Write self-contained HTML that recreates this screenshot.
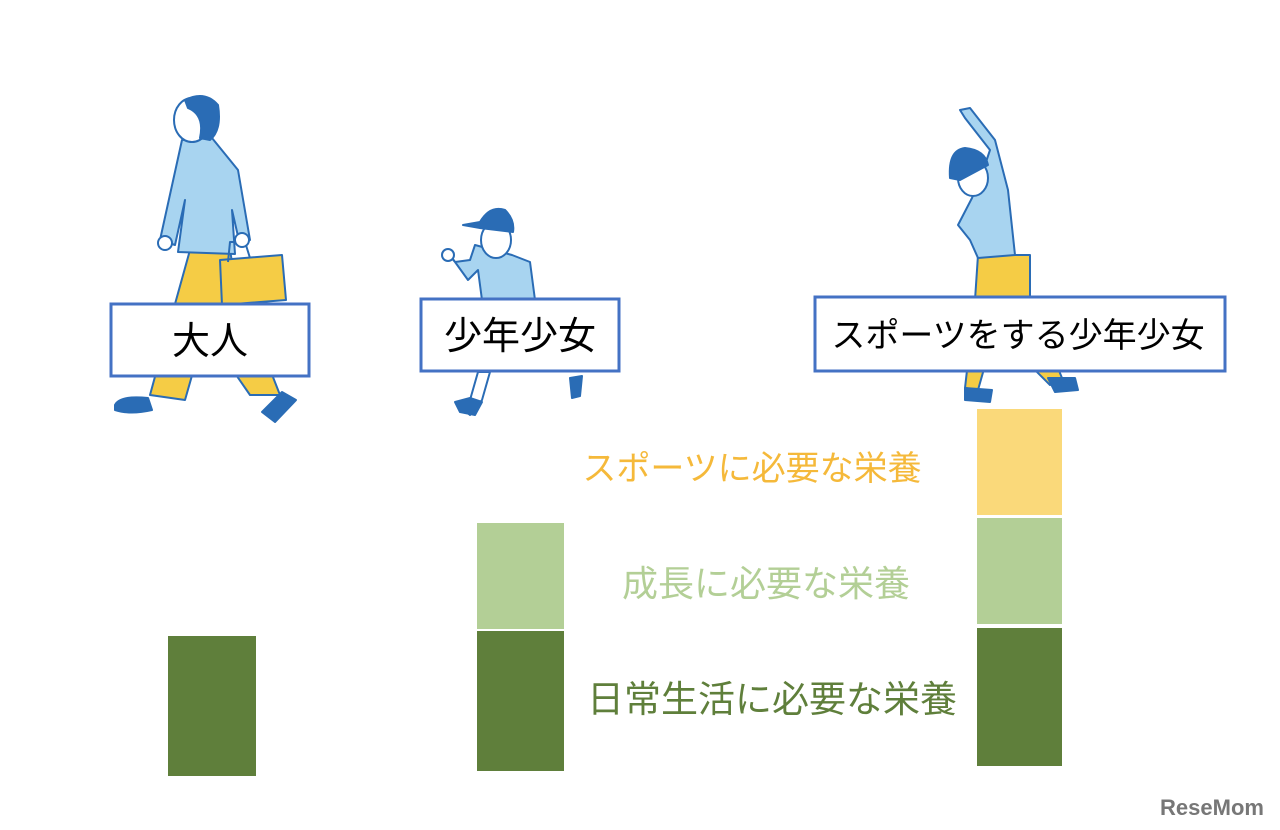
<!DOCTYPE html>
<html><head><meta charset="utf-8"><style>
html,body{margin:0;padding:0;background:#fff;width:1280px;height:830px;overflow:hidden}
svg{display:block}
text{font-family:"Liberation Sans","Noto Sans CJK JP",sans-serif}
</style></head><body>
<svg width="1280" height="830" viewBox="0 0 1280 830" xmlns="http://www.w3.org/2000/svg">
<g stroke="#2a6cb5" stroke-width="2" stroke-linejoin="round">
<!-- Adult -->
<path d="M190 250 L165 340 L150 395 L185 400 L205 330 L250 395 L280 395 L235 280 L230 250Z" fill="#f5cc45"/>
<path d="M182 140 L160 240 L175 245 L185 200 L178 252 L235 254 L232 210 L240 245 L250 240 L238 170 L212 138Z" fill="#a8d4f0"/>
<path d="M220 260 L282 255 L286 300 L222 305Z" fill="#f5cc45"/>
<path d="M228 262 L230 242 L245 242 L250 258" fill="none"/>
<ellipse cx="192" cy="120" rx="18" ry="22" fill="#fff"/>
<path d="M185 100 Q205 90 218 105 Q222 130 210 140 L200 138 Q205 115 188 108Z" fill="#2a6cb5"/>
<path d="M115 405 Q120 395 148 398 L152 410 Q130 415 115 410Z" fill="#2a6cb5"/>
<path d="M262 412 L282 392 L296 400 L275 422Z" fill="#2a6cb5"/>
<circle cx="165" cy="243" r="7" fill="#fff"/><circle cx="242" cy="240" r="7" fill="#fff"/>
<!-- Child -->
<path d="M475 245 L470 260 L455 262 L445 250 L450 255 L468 280 L478 270 L482 300 L535 300 L530 262 L512 255Z" fill="#a8d4f0"/>
<ellipse cx="496" cy="240" rx="15" ry="18" fill="#fff"/>
<path d="M463 225 L480 222 Q490 205 505 210 Q515 220 513 232 L480 228Z" fill="#2a6cb5"/>
<circle cx="448" cy="255" r="6" fill="#fff"/>
<path d="M478 372 L470 400 L458 405 L470 415 L482 400 L490 372Z" fill="#fff"/>
<path d="M455 402 L470 398 L482 402 L475 415 L460 412Z" fill="#2a6cb5"/>
<path d="M570 378 L582 376 L580 396 L572 398Z" fill="#2a6cb5"/>
<!-- Sports -->
<path d="M978 255 L975 300 L965 388 L978 390 L995 330 L1050 385 L1062 378 L1030 300 L1030 255Z" fill="#f5cc45"/>
<path d="M960 110 L970 108 L995 140 L1008 190 L1015 255 L978 258 L970 240 L958 225 L972 198 L985 165 L990 150 L965 118Z" fill="#a8d4f0"/>
<ellipse cx="973" cy="178" rx="15" ry="18" fill="#fff"/>
<path d="M950 178 Q948 150 965 148 Q985 150 988 165 L960 180Z" fill="#2a6cb5"/>
<path d="M965 388 L992 390 L990 402 L965 400Z" fill="#2a6cb5"/>
<path d="M1048 378 L1075 378 L1078 390 L1055 392Z" fill="#2a6cb5"/>
</g>
<!-- label boxes -->
<g fill="#fff" stroke="#4472c4" stroke-width="3">
<rect x="111" y="304" width="198" height="72"/>
<rect x="421" y="299" width="198" height="72"/>
<rect x="815" y="297" width="410" height="74"/>
</g>
<g fill="#000" text-anchor="middle">
<text x="210" y="354" font-size="38">大人</text>
<text x="520" y="349" font-size="38">少年少女</text>
<text x="1018" y="347" font-size="34">スポーツをする少年少女</text>
</g>
<!-- bars -->
<rect x="168" y="636" width="88" height="140" fill="#5f7f3b"/>
<rect x="477" y="523" width="87" height="106" fill="#b3cf96"/>
<rect x="477" y="631" width="87" height="140" fill="#5f7f3b"/>
<rect x="977" y="409" width="85" height="106" fill="#fad97a"/>
<rect x="977" y="518" width="85" height="106" fill="#b3cf96"/>
<rect x="977" y="628" width="85" height="138" fill="#5f7f3b"/>
<g text-anchor="middle">
<text x="752" y="480" font-size="34" fill="#f5b93a">スポーツに必要な栄養</text>
<text x="766" y="596" font-size="36" fill="#b3cf96">成長に必要な栄養</text>
<text x="772" y="712" font-size="37" fill="#5f7f3b">日常生活に必要な栄養</text>
</g>
<text x="1212" y="815" font-size="22" font-weight="bold" fill="#777" text-anchor="middle">ReseMom</text>
</svg>
</body></html>
